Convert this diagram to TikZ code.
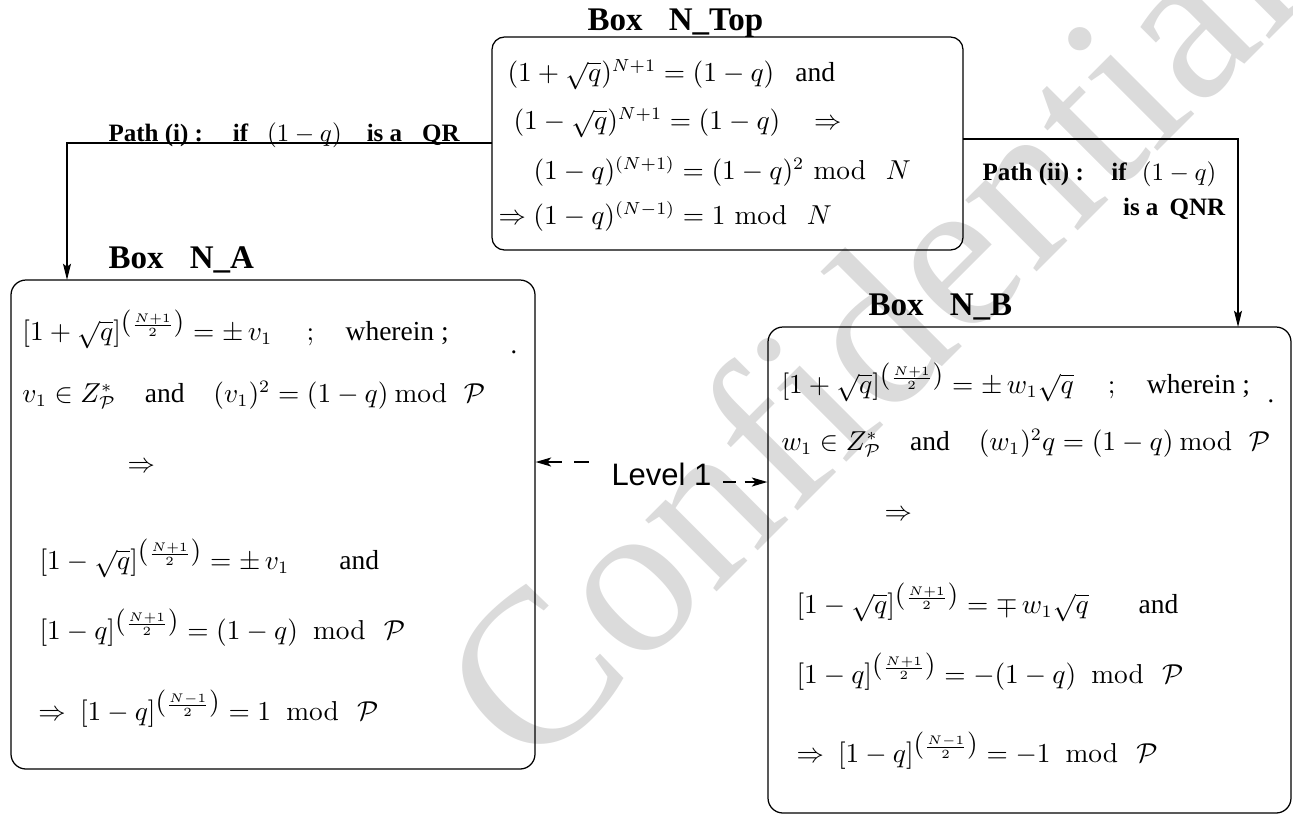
\documentclass[tikz,border=0pt]{standalone}
\usepackage{amsmath}
\usepackage[no-math]{fontspec}
\setmainfont{Liberation Serif}
\newfontfamily\lvlfont{Liberation Sans}
\usetikzlibrary{arrows.meta,calc}
\newcommand{\modA}{\mkern10mu\mathrm{mod}\mkern12mu}
\newcommand{\modB}{\mkern4mu\mathrm{mod}\mkern11mu}
\newcommand{\modT}{\mkern6mu\mathrm{mod}\mkern13mu}
\newcommand{\hexp}[1]{^{\mbox{$($}\frac{#1}{2}\mbox{$)$}}}
\newcommand{\tw}[1]{{\fontsize{11}{13}\selectfont #1}}
\begin{document}
\begin{tikzpicture}[x=0.4pt,y=-0.4pt,
  box/.style={draw, rounded corners=5pt, line width=0.5pt, inner sep=0pt},
  eq/.style={anchor=base west, inner sep=0pt, font=\fontsize{10.5}{12}\selectfont},
  lbl/.style={anchor=base west, inner sep=0pt, font=\fontsize{13.2}{15}\selectfont\bfseries},
  plbl/.style={anchor=base west, inner sep=0pt, font=\fontsize{10}{12}\selectfont},
  arr/.style={-{Stealth[length=6.5pt,width=3.2pt,inset=1.2pt]}, line width=0.45pt},
  darrL/.style={{Stealth[length=6.2pt,width=3.6pt,inset=1.5pt]}-, line width=0.6pt},
  darrR/.style={-{Stealth[length=6.2pt,width=3.6pt,inset=1.5pt]}, line width=0.6pt},
  wm/.style={anchor=base west, inner sep=0pt, rotate=45, text=black!14, font=\fontsize{88}{90}\selectfont}]
\useasboundingbox (0,0) rectangle (1293,816);
% watermark
\node[wm] (wmark) at (532,777) {Confidential};

% boxes
\node[box, minimum width=188.4pt, minimum height=85.2pt] (top) at (727.5,143.5) {};
\node[box, rounded corners=6pt, minimum width=209.6pt, minimum height=195.6pt] (A) at (273,524.5) {};
\node[box, rounded corners=6pt, minimum width=209.2pt, minimum height=194.4pt] (B) at (1029.5,570) {};

% titles
\node[lbl] (ttop) at (587,30) {Box\hspace{0.8em}N\_Top};
\node[lbl] (tA) at (108,268) {Box\hspace{0.8em}N\_A};
\node[lbl] (tB) at (868,315) {Box\hspace{0.8em}N\_B};

% top box content
\node[eq] (top1) at (507,81) {$(1+\sqrt{q})^{N+1} = (1-q)$\hspace{0.8em}\tw{and}};
\node[eq] (top2) at (513,129) {$(1-\sqrt{q})^{N+1} = (1-q)\hspace{1.0em}\Rightarrow$};
\node[eq] (top3) at (533,179) {$(1-q)^{(N+1)} = (1-q)^2\modT N$};
\node[eq] (top4) at (498,224) {$\Rightarrow (1-q)^{(N-1)} = 1\modT N$};

% box A content
\node[eq] (a1) at (22,340) {$[1+\sqrt{q}]\hexp{N+1} = \pm\, v_1$\hspace{1.3em}$;$\hspace{1.2em}\tw{wherein ;}};
\node[eq] (adot) at (510,353) {.};
\node[eq] (a2) at (22,402) {$v_1 \in Z^*_{\mathcal{P}}$\hspace{1.1em}\tw{and}\hspace{1.1em}$(v_1)^2 = (1-q)\modB \mathcal{P}$};
\node[eq] (a3) at (127,472) {$\Rightarrow$};
\node[eq] (a4) at (39,569) {$[1-\sqrt{q}]\hexp{N+1} = \pm\, v_1$\hspace{1.9em}\tw{and}};
\node[eq] (a5) at (39,639) {$[1-q]\hexp{N+1} = (1-q)\modA \mathcal{P}$};
\node[eq] (a6) at (38,720) {$\Rightarrow\ [1-q]\hexp{N-1} = 1\modA \mathcal{P}$};

% box B content
\node[eq] (b1) at (781,393) {$[1+\sqrt{q}]\hexp{N+1} = \pm\, w_1\sqrt{q}$\hspace{1.3em}$;$\hspace{1.2em}\tw{wherein ;}};
\node[eq] (bdot) at (1267,402) {.};
\node[eq] (b2) at (781,450) {$w_1 \in Z^*_{\mathcal{P}}$\hspace{1.1em}\tw{and}\hspace{1.1em}$(w_1)^2q = (1-q)\modB \mathcal{P}$};
\node[eq] (b3) at (884,520) {$\Rightarrow$};
\node[eq] (b4) at (796,613) {$[1-\sqrt{q}]\hexp{N+1} = \mp\, w_1\sqrt{q}$\hspace{1.9em}\tw{and}};
\node[eq] (b5) at (796,683) {$[1-q]\hexp{N+1} = -(1-q)\modA \mathcal{P}$};
\node[eq] (b6) at (796,762) {$\Rightarrow\ [1-q]\hexp{N-1} = -1\modA \mathcal{P}$};

% path labels
\node[plbl] (p1) at (108,141) {\textbf{Path (i) :}\hspace{1.2em}\textbf{if}\hspace{0.75em}$(1-q)$\hspace{1.0em}\textbf{is a}\hspace{0.8em}\textbf{QR}};
\node[plbl] (p2a) at (982,180) {\textbf{Path (ii) :}\hspace{1.1em}\textbf{if}\hspace{0.6em}$(1-q)$};
\node[plbl, anchor=base east] (p2b) at (1226,215) {\textbf{is a}\hspace{0.45em}\textbf{QNR}};

% connectors
\coordinate (lOut) at (492,143);
\coordinate (aIn) at (67,280);
\draw[arr] (lOut) -| (aIn);
\coordinate (rOut) at (963,139);
\coordinate (bIn) at (1238,327);
\draw[arr] (rOut) -| (bIn);

% Level 1
\node[anchor=base west, inner sep=0pt, font=\lvlfont\fontsize{12.4}{14}\selectfont] (lvl) at (611,485) {Level 1};
\coordinate (lvlL) at (593,462);
\coordinate (lvlR) at (723,482);
\draw[darrL, dash pattern=on 6pt off 5pt] (A.east |- lvlL) -- (lvlL);
\draw[darrR, dash pattern=on 5pt off 3.6pt] (lvlR) -- (B.west |- lvlR);
\end{tikzpicture}
\end{document}
